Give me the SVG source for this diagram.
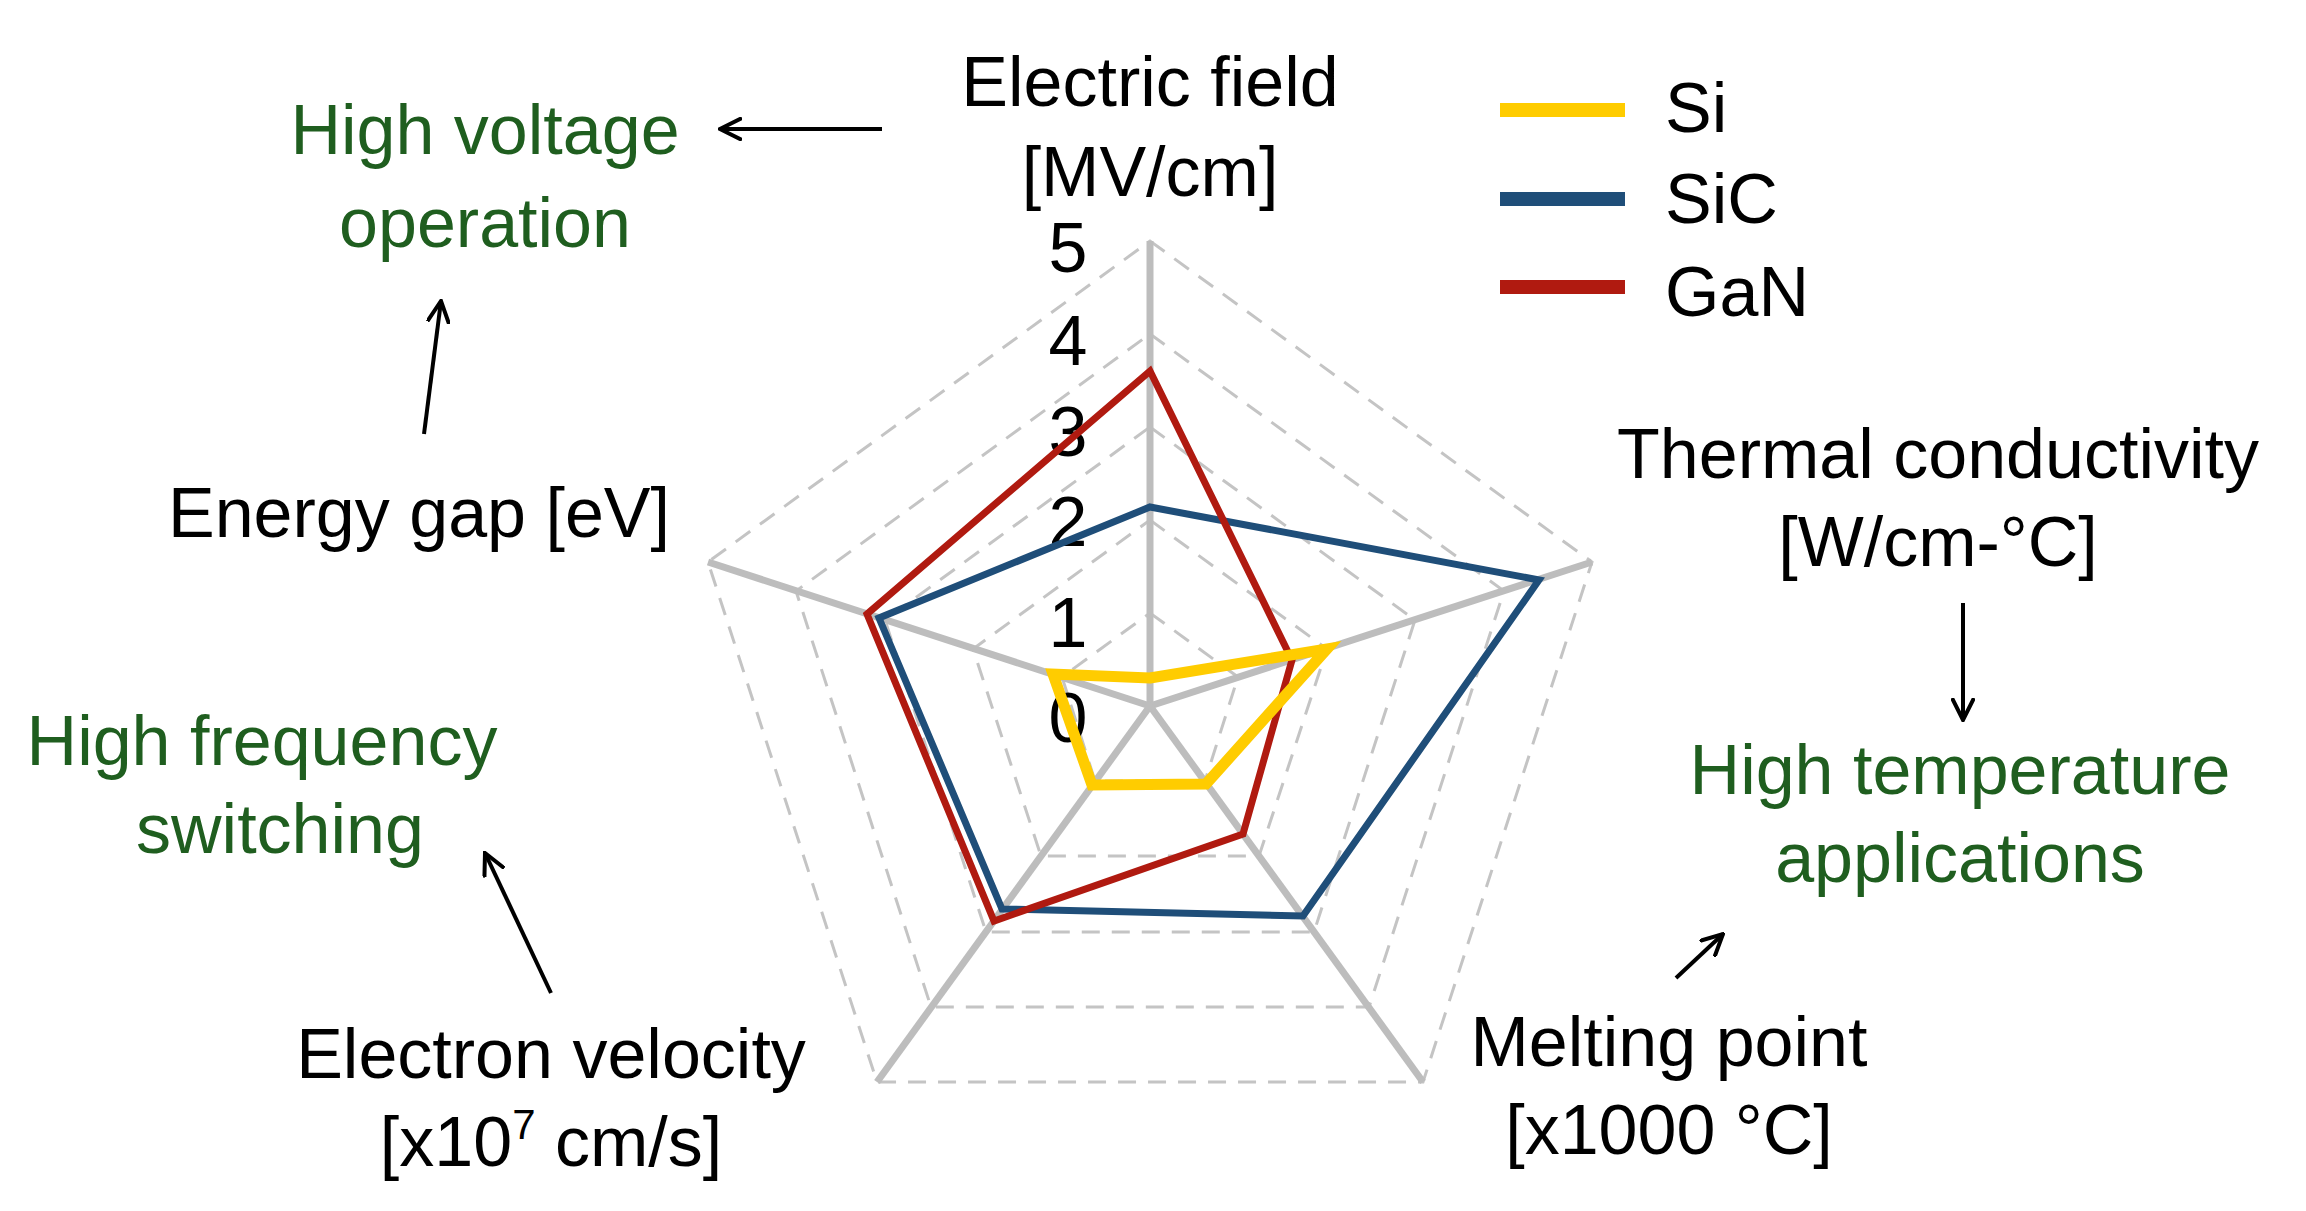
<svg xmlns="http://www.w3.org/2000/svg" width="2306" height="1211" viewBox="0 0 2306 1211">
<style>
text{font-family:"Liberation Sans",Arial,sans-serif;font-size:70px;fill:#000;text-anchor:middle}
.g{fill:#1f5e1f}
.ring{fill:none;stroke:#c4c4c4;stroke-width:3;stroke-dasharray:18 12}
.spoke{stroke:#bdbdbd;stroke-width:7}
.arr{stroke:#000;stroke-width:4;fill:none}
</style>
<defs><marker id="ah" viewBox="0 0 24 24" refX="22" refY="12" markerWidth="24" markerHeight="24" markerUnits="userSpaceOnUse" orient="auto"><path d="M0,1 L22,12 L0,23" fill="none" stroke="#000" stroke-width="4"/></marker></defs>
<g id="grid">
<polygon class="ring" points="1150,613 1238,677 1205,781 1095,781 1062,677"/>
<polygon class="ring" points="1150,520 1327,649 1259,856 1041,856 973,649"/>
<polygon class="ring" points="1150,427 1415,620 1314,932 986,932 885,620"/>
<polygon class="ring" points="1150,334 1504,591 1369,1007 931,1007 796,591"/>
<polygon class="ring" points="1150,241 1592,562 1423,1082 877,1082 708,562"/>
<line class="spoke" x1="1150" y1="706" x2="1150" y2="241"/>
<line class="spoke" x1="1150" y1="706" x2="1592" y2="562"/>
<line class="spoke" x1="1150" y1="706" x2="1423" y2="1082"/>
<line class="spoke" x1="1150" y1="706" x2="877" y2="1082"/>
<line class="spoke" x1="1150" y1="706" x2="708" y2="562"/>
<text x="1068" y="272">5</text><text x="1068" y="365">4</text><text x="1068" y="456">3</text><text x="1068" y="546">2</text><text x="1068" y="647">1</text><text x="1068" y="742">0</text>
</g>
<g id="series">
<polygon points="1150,507 1539,580 1303,916 1002,909 879,618" fill="none" stroke="#1f4e79" stroke-width="7"/>
<polygon points="1150,371 1292,660 1243,834 994,921 867,614" fill="none" stroke="#b01a10" stroke-width="7"/>
<polygon points="1150,678 1327,649 1206,784 1092,785 1053,674" fill="none" stroke="#ffcc00" stroke-width="11"/>
</g>
<g id="legend">
<line x1="1500" y1="110" x2="1625" y2="110" stroke="#ffcc00" stroke-width="14"/><text x="1665" y="132" style="text-anchor:start">Si</text>
<line x1="1500" y1="199" x2="1625" y2="199" stroke="#1f4e79" stroke-width="14"/><text x="1665" y="223" style="text-anchor:start">SiC</text>
<line x1="1500" y1="287" x2="1625" y2="287" stroke="#b01a10" stroke-width="14"/><text x="1665" y="316" style="text-anchor:start">GaN</text>
</g>
<g id="labels">
<text x="1150" y="106">Electric field</text><text x="1150" y="196">[MV/cm]</text>
<text x="1938" y="478">Thermal conductivity</text><text x="1938" y="566">[W/cm-°C]</text>
<text x="1669" y="1066">Melting point</text><text x="1669" y="1154">[x1000 °C]</text>
<text x="551" y="1078">Electron velocity</text><text x="551" y="1166">[x10<tspan font-size="42" dy="-27">7</tspan><tspan dy="27"> cm/s]</tspan></text>
<text x="419" y="537">Energy gap [eV]</text>
<text class="g" x="485" y="154">High voltage</text><text class="g" x="485" y="247">operation</text>
<text class="g" x="1960" y="794">High temperature</text><text class="g" x="1960" y="882">applications</text>
<text class="g" x="262" y="765">High frequency</text><text class="g" x="280" y="853">switching</text>
</g>
<g id="connectors">
<line class="arr" x1="882" y1="129" x2="720" y2="129" marker-end="url(#ah)"/>
<line class="arr" x1="424" y1="434" x2="441" y2="301" marker-end="url(#ah)"/>
<line class="arr" x1="1963" y1="603" x2="1963" y2="720" marker-end="url(#ah)"/>
<line class="arr" x1="1676" y1="978" x2="1723" y2="934" marker-end="url(#ah)"/>
<line class="arr" x1="551" y1="993" x2="485" y2="853" marker-end="url(#ah)"/>
</g>
</svg>
